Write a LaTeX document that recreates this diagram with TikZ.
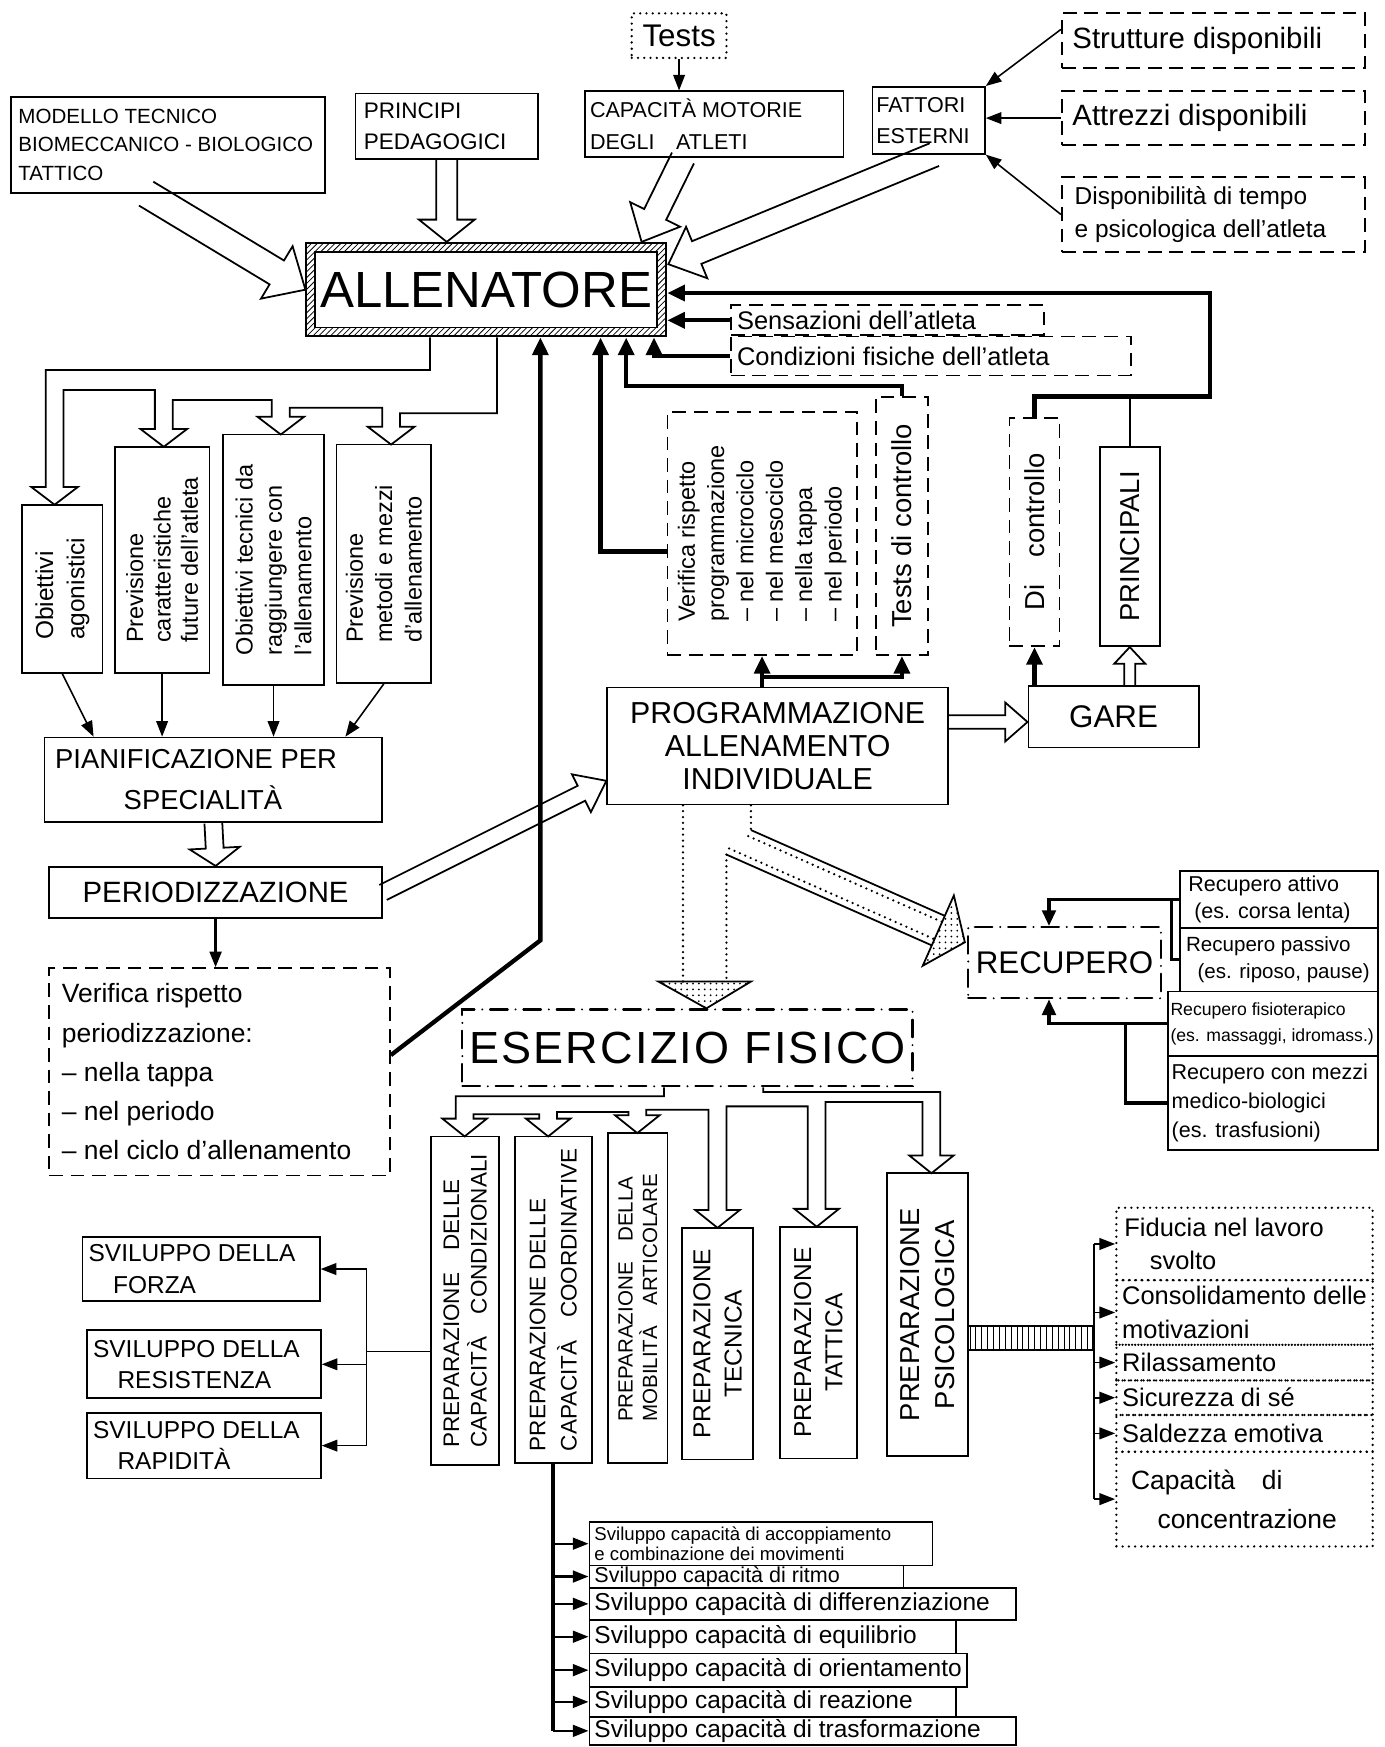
\documentclass[tikz,border=0pt]{standalone}
\usepackage{fontspec}
\setmainfont{Liberation Sans}
\usetikzlibrary{arrows.meta,patterns,calc,fit}

% hollow arrow: \harrow[style]{from}{to}{shaft}{head}{head length}
\newcommand{\harrow}[6][]{%
  \coordinate (hb) at ($(#3)!#6!(#2)$);
  \draw[hol,#1] ($(#2)!#4!90:(#3)$) -- ($(hb)!#4!90:(#3)$) -- ($(hb)!#5!90:(#3)$)
    -- (#3) -- ($(hb)!#5!-90:(#3)$) -- ($(hb)!#4!-90:(#3)$) -- ($(#2)!#4!-90:(#3)$);
}
% box and its text: \bx[box style]{name}{corners}{text style}{text position}{text}
\newcommand{\bx}[6][box]{%
  \node[#1, fit={#3}] (#2) {};
  \node[#4] (#2t) at (#5) {#6};
}
\newcommand{\fsz}[2]{\fontsize{#1}{#2}\selectfont}

\begin{document}
\begin{tikzpicture}[x=0.02cm, y=-0.02cm,
  box/.style={draw, line width=0.9pt, inner sep=0pt},
  dbox/.style={box, dash pattern=on 7pt off 4pt},
  dotbox/.style={box, line width=1.3pt, line cap=round, dash pattern=on 0pt off 3.2pt},
  ddbox/.style={box, line width=1.1pt, line cap=round, dash pattern=on 9pt off 4pt on 0pt off 4pt},
  lft/.style={anchor=west, align=left, inner sep=0pt},
  ctr/.style={align=center, inner sep=0pt},
  vt/.style={rotate=90, align=left, inner sep=0pt},
  hol/.style={line width=0.9pt},
  dotln/.style={line width=1.3pt, line cap=round, dash pattern=on 0pt off 3pt},
  ar/.style={line width=0.8pt, -{Triangle[length=8pt,width=6pt]}},
  fb/.style={line width=2.2pt, -{Triangle[length=9pt,width=8pt]}},
  md/.style={line width=1.6pt},
  mar/.style={md, -{Triangle[length=8pt,width=7pt]}},
]
\useasboundingbox (0,0) rectangle (1243,1568);

% --- top row
\bx[dotbox]{tests}{(567,12) (652,52)}{ctr, font=\fsz{16}{18}}{tests.center}{Tests}
\bx{modello}{(10,87) (292,173)}{lft, font=\fsz{10.5}{14.5}}{$(modello.west)+(7,0)$}{MODELLO TECNICO\\BIOMECCANICO - BIOLOGICO\\TATTICO}
\bx{princ}{(319,84) (483,143)}{lft, font=\fsz{11.5}{16}}{$(princ.west)+(8,0)$}{PRINCIPI\\PEDAGOGICI}
\bx{capac}{(525,82) (757,141)}{lft, font=\fsz{11}{16}}{$(capac.west)+(5,0)$}{CAPACITÀ MOTORIE\\DEGLI\quad ATLETI}
\bx{fattori}{(783,78) (884,138)}{lft, font=\fsz{11}{16}}{$(fattori.west)+(4,0)$}{FATTORI\\ESTERNI}
\bx[dbox]{strutt}{(953,12) (1225,61)}{lft, font=\fsz{15}{17}}{$(strutt.west)+(10,0)$}{Strutture disponibili}
\bx[dbox]{attr}{(953,82) (1225,130)}{lft, font=\fsz{15}{17}}{$(attr.west)+(10,0)$}{Attrezzi disponibili}
\bx[dbox]{disp}{(953,159) (1225,226)}{lft, font=\fsz{12.5}{17}}{$(disp.west)+(12,0)$}{Disponibilità di tempo\\e psicologica dell'atleta}

% --- allenatore
\node[box, line width=1pt, pattern=north east lines, fit={(275,218) (598,302)}] (allen) {};
\bx[box, fill=white]{allin}{(283,226) (590,294)}{ctr, font=\fsz{26}{28}}{allin.center}{ALLENATORE}
\bx[dbox]{sens}{(656,274) (937,301)}{lft, font=\fsz{13}{14}}{$(sens.west)+(6,0)$}{Sensazioni dell'atleta}
\bx[dbox]{cond}{(656,302) (1015,337)}{lft, font=\fsz{13}{14}}{$(cond.west)+(6,0)$}{Condizioni fisiche dell'atleta}

% --- controllo
\bx[dbox]{verprog}{(599,370) (769,588)}{vt, font=\fsz{12}{15}}{verprog.center}{Verifica rispetto\\programmazione\\– nel microciclo\\– nel mesociclo\\– nella tappa\\– nel periodo}
\bx[dbox]{tcon}{(786,356) (833,588)}{vt, font=\fsz{14}{16}}{tcon.center}{Tests di controllo}
\bx[dbox]{dicon}{(906,375) (951,580)}{vt, font=\fsz{14}{16}}{dicon.center}{Di\quad controllo}
\bx{gprinc}{(987,401) (1041,580)}{vt, font=\fsz{14}{16}}{gprinc.center}{PRINCIPALI}
\bx{prog}{(545,617) (851,722)}{ctr, font=\fsz{15.5}{17}}{prog.center}{PROGRAMMAZIONE\\ALLENAMENTO\\INDIVIDUALE}
\bx{gare}{(923,616) (1076,671)}{ctr, font=\fsz{16}{18}}{gare.center}{GARE}

% --- left column
\bx{ob1}{(20,453) (92,604)}{vt, font=\fsz{12.5}{16}}{ob1.center}{Obiettivi\\agonistici}
\bx{ob2}{(103,401) (188,604)}{vt, font=\fsz{12}{14}}{ob2.center}{Previsione\\caratteristiche\\future dell'atleta}
\bx{ob3}{(200,390) (291,615)}{vt, font=\fsz{12}{15}}{ob3.center}{Obiettivi tecnici da\\raggiungere con\\l'allenamento}
\bx{ob4}{(302,399) (387,613)}{vt, font=\fsz{12}{15}}{ob4.center}{Previsione\\metodi e mezzi\\d'allenamento}
\bx{pian}{(40,662) (343,738)}{lft, font=\fsz{14}{21}}{$(pian.west)+(10,0)$}{PIANIFICAZIONE PER\\\hspace{2.5em}SPECIALITÀ}
\bx{per}{(44,778) (343,824)}{ctr, font=\fsz{15}{17}}{per.center}{PERIODIZZAZIONE}
\bx[dbox]{verper}{(44,869) (350,1055)}{lft, font=\fsz{13.5}{20}}{$(verper.west)+(12,0)$}{Verifica rispetto\\periodizzazione:\\– nella tappa\\– nel periodo\\– nel ciclo d'allenamento}

% --- esercizio fisico
\bx[ddbox]{eser}{(415,906) (819,975)}{ctr, font={\fsz{23}{25}\addfontfeatures{LetterSpace=5}}}{eser.center}{ESERCIZIO FISICO}
\bx{b1}{(387,1020) (448,1315)}{vt, font=\fsz{11.5}{14}}{b1.center}{PREPARAZIONE\quad DELLE\\CAPACITÀ\quad CONDIZIONALI}
\bx{b2}{(462,1020) (531,1313)}{vt, font=\fsz{11.5}{16}}{b2.center}{PREPARAZIONE DELLE\\CAPACITÀ\quad COORDINATIVE}
\bx{b3}{(546,1017) (599,1313)}{vt, font=\fsz{10.5}{12.5}}{b3.center}{PREPARAZIONE\quad DELLA\\MOBILITÀ\quad ARTICOLARE}
\bx{b4}{(612,1102) (676,1310)}{vt, align=center, font=\fsz{12.5}{16}}{b4.center}{PREPARAZIONE\\TECNICA}
\bx{b5}{(700,1101) (769,1309)}{vt, align=center, font=\fsz{12.5}{16}}{b5.center}{PREPARAZIONE\\TATTICA}
\bx{b6}{(796,1053) (869,1307)}{vt, align=center, font=\fsz{14}{18}}{b6.center}{PREPARAZIONE\\PSICOLOGICA}

% --- sviluppo
\bx{forza}{(74,1110) (287,1168)}{lft, font=\fsz{12.5}{16}}{$(forza.west)+(6,0)$}{SVILUPPO DELLA\\\quad FORZA}
\bx{resist}{(78,1194) (288,1255)}{lft, font=\fsz{12.5}{16}}{$(resist.west)+(6,0)$}{SVILUPPO DELLA\\\quad RESISTENZA}
\bx{rapid}{(78,1268) (288,1327)}{lft, font=\fsz{12.5}{16}}{$(rapid.west)+(6,0)$}{SVILUPPO DELLA\\\quad RAPIDITÀ}
\bx{s1}{(529,1366) (837,1405)}{lft, font=\fsz{9.5}{10.5}}{$(s1.west)+(5,0)$}{Sviluppo capacità di accoppiamento\\e combinazione dei movimenti}
\bx{s2}{(529,1405) (811,1425)}{lft, font=\fsz{11}{12}}{$(s2.west)+(5,0)$}{Sviluppo capacità di ritmo}
\bx{s3}{(529,1425) (912,1454)}{lft, font=\fsz{12.5}{13}}{$(s3.west)+(5,0)$}{Sviluppo capacità di differenziazione}
\bx{s4}{(529,1454) (858,1484)}{lft, font=\fsz{12.5}{13}}{$(s4.west)+(5,0)$}{Sviluppo capacità di equilibrio}
\bx{s5}{(529,1484) (868,1514)}{lft, font=\fsz{12.5}{13}}{$(s5.west)+(5,0)$}{Sviluppo capacità di orientamento}
\bx{s6}{(529,1514) (858,1541)}{lft, font=\fsz{12.5}{13}}{$(s6.west)+(5,0)$}{Sviluppo capacità di reazione}
\bx{s7}{(529,1541) (912,1566)}{lft, font=\fsz{12.5}{13}}{$(s7.west)+(5,0)$}{Sviluppo capacità di trasformazione}

% --- recupero
\bx[ddbox]{recu}{(869,832) (1042,896)}{ctr, font=\fsz{16}{18}}{recu.center}{RECUPERO}
\bx{rec1}{(1059,782) (1237,833)}{lft, font=\fsz{11}{14}}{$(rec1.west)+(8,0)$}{Recupero attivo\\\ (es. corsa lenta)}
\bx{rec2}{(1059,833) (1237,890)}{lft, font=\fsz{10.5}{14}}{$(rec2.west)+(6,0)$}{Recupero passivo\\\ \ (es. riposo, pause)}
\bx{rec3}{(1048,890) (1237,948)}{lft, font=\fsz{9}{13}}{$(rec3.west)+(3,0)$}{Recupero fisioterapico\\(es. massaggi, idromass.)}
\bx{rec4}{(1048,948) (1237,1032)}{lft, font=\fsz{11}{15}}{$(rec4.west)+(4,0)$}{Recupero con mezzi\\medico-biologici\\(es. trasfusioni)}

% --- psicologica
\bx[dotbox]{fid}{(1002,1084) (1232,1149)}{lft, font=\fsz{13}{17}}{$(fid.west)+(8,0)$}{Fiducia nel lavoro\\\quad svolto}
\bx[dotbox]{cons}{(1002,1149) (1232,1207)}{lft, font=\fsz{13}{17}}{$(cons.west)+(6,0)$}{Consolidamento delle\\motivazioni}
\bx[dotbox]{rilas}{(1002,1207) (1232,1239)}{lft, font=\fsz{13}{15}}{$(rilas.west)+(6,0)$}{Rilassamento}
\bx[dotbox]{sicur}{(1002,1239) (1232,1270)}{lft, font=\fsz{13}{15}}{$(sicur.west)+(6,0)$}{Sicurezza di sé}
\bx[dotbox]{sald}{(1002,1270) (1232,1303)}{lft, font=\fsz{13}{15}}{$(sald.west)+(6,0)$}{Saldezza emotiva}
\bx[dotbox]{capc}{(1002,1303) (1232,1388)}{lft, font=\fsz{13.5}{20}}{$(capc.west)+(14,0)$}{Capacità\quad di\\\quad concentrazione}
\node[box, pattern=vertical lines, fit={(869,1190) (981,1212)}] (lad) {};

% --- connectors, top
\draw[ar] (tests.south) -- (tests.south |- capac.north);
\draw[ar] ($(strutt.north west)!0.3!(strutt.south west)$) -- (fattori.north east);
\draw[ar] (attr.west) -- (attr.west -| fattori.east);
\draw[ar] (disp.west) -- (fattori.south east);
\coordinate (mo1) at ($(modello.south west)!0.43!(modello.south east)$);
\harrow{mo1}{allen.west}{0.25cm}{0.55cm}{0.6cm}
\harrow{princ.south}{princ.south |- allen.north}{0.19cm}{0.5cm}{0.4cm}
\coordinate (ca1) at ($(capac.south west)!0.38!(capac.south east)$);
\coordinate (ca2) at ($(allen.north east)+(-23,0)$);
\harrow{ca1}{ca2}{0.22cm}{0.5cm}{0.55cm}
\coordinate (fa1) at ($(fattori.south west)!0.55!(fattori.south east)$);
\coordinate (fa2) at ($(allen.north east)+(1,20)$);
\harrow{fa1}{fa2}{0.22cm}{0.5cm}{0.55cm}

% --- feedback into allenatore
\coordinate (inA) at (allen.south -| 485,0);
\coordinate (inB) at (allen.south -| 539,0);
\coordinate (inC) at (allen.south -| 562,0);
\coordinate (inD) at (allen.south -| 587,0);
\coordinate (lpR) at (1086,356);
\coordinate (lpT) at (1086,263);
\coordinate (bend) at (485,844);
\draw[fb] (dicon.north) |- (lpR) -- (lpT) -- (allen.east |- lpT);
\draw[line width=1pt] (gprinc.north) -- (gprinc.north |- lpR);
\draw[fb] (sens.west) -- (sens.west -| allen.east);
\draw[fb] (cond.west) -| (inD);
\draw[fb] (tcon.north) -- ++(0,-9) -| (inC);
\draw[fb] ($(verprog.west)+(0,16)$) -| (inB);
\draw[fb] ($(verper.east)+(0,-15)$) -- (bend) -- (inA);

% --- programmazione, gare
\draw[fb] (verprog.south |- prog.north) -- (verprog.south);
\draw[fb] ($(verprog.south)+(0,19)$) -| (tcon.south);
\draw[fb] (dicon.south |- gare.north) -- (dicon.south);
\coordinate (gp) at (gprinc.south |- gare.north);
\harrow{gp}{gprinc.south}{0.1cm}{0.28cm}{0.3cm}
\coordinate (pg1) at (prog.east |- 0,648);
\coordinate (pg2) at (gare.west |- 0,648);
\harrow{pg1}{pg2}{0.12cm}{0.35cm}{0.4cm}

% --- left comb from allenatore
\draw[hol] (allen.south -| 386,0) -- (386,332) -- (41,332) -- (41,437) -- (28,437) -- (49,453) -- (70,437) -- (57,437)
  -- (57,350) -- (139,350) -- (139,385) -- (126,385) -- (147,401) -- (168,385) -- (155,385)
  -- (155,359) -- (244,359) -- (244,374) -- (231,374) -- (252,390) -- (273,374) -- (260,374)
  -- (260,366) -- (343,366) -- (343,383) -- (330,383) -- (351,399) -- (372,383) -- (359,383)
  -- (359,371) -- (446,371) -- (allen.south -| 446,0);
\coordinate (p1) at (pian.north -| 84,0);
\coordinate (p4) at (pian.north -| 310,0);
\draw[ar] (ob1.south) -- (p1);
\draw[ar] (ob2.south) -- (ob2.south |- pian.north);
\draw[ar] (ob3.south) -- (ob3.south |- pian.north);
\draw[ar] (ob4.south) -- (p4);
\harrow{pian.south}{per.north}{0.16cm}{0.45cm}{0.32cm}
\draw[ar, line width=1.4pt] (per.south) -- (per.south |- verper.north);
\coordinate (pp2) at ($(prog.south west)+(0,-22)$);
\harrow{per.east}{pp2}{0.15cm}{0.38cm}{0.5cm}

% --- dotted channel from programmazione
\draw[dotln] (prog.south -| 613,0) -- (613,881);
\draw[dotln] (652,767) -- (652,881);
\draw[dotln] (prog.south -| 674,0) -- (674,745);
\draw[hol] (674,745) -- (848,822);
\draw[hol] (652,767) -- (836.3,848.5);
\draw[dotln] (671.6,750.5) -- (845.6,827.5);
\draw[dotln] (654.4,761.5) -- (838.7,843);
\draw[hol, pattern=dots] (591,881) -- (eser.north -| 634,0) -- (674,881) -- cycle;
\draw[hol, pattern=dots] (856.1,803.7) -- (866,845.7) -- (828.2,866.8) -- cycle;

% --- comb from esercizio fisico
\draw[hol] (eser.south -| 596,0) -- (596,984) -- (409,984) -- (409,1004) -- (397,1004) -- (417,1020) -- (437,1004) -- (425,1004)
  -- (425,1000) -- (484,1000) -- (484,1004) -- (472,1004) -- (492,1020) -- (512,1004) -- (500,1004)
  -- (500,998) -- (564,998) -- (564,1001) -- (552,1001) -- (572,1017) -- (592,1001) -- (580,1001)
  -- (580,996) -- (636,996) -- (636,1086) -- (624,1086) -- (644,1102) -- (664,1086) -- (652,1086)
  -- (652,993) -- (725,993) -- (725,1085) -- (713,1085) -- (733,1101) -- (753,1085) -- (741,1085)
  -- (741,989) -- (828,989) -- (828,1037) -- (816,1037) -- (836,1053) -- (856,1037) -- (844,1037)
  -- (844,980) -- (685,980) -- (eser.south -| 685,0);

% --- sviluppo links
\coordinate (sv) at (329,1213);
\draw[hol] (sv) -- (sv -| b1.west);
\draw[hol] (sv |- forza.east) -- (sv |- rapid.east);
\foreach \s in {forza,resist,rapid} \draw[ar] (sv |- \s.east) -- (\s.east);
\draw[line width=2.2pt] (b2.south) -- (b2.south |- s7.west);
\foreach \s in {s1,s2,s3,s4,s5,s6,s7} \draw[ar, line width=1.2pt] (b2.south |- \s.west) -- (\s.west);

% --- recupero links
\coordinate (rin) at ($(recu.north)+(-14,0)$);
\coordinate (rout) at ($(recu.south)+(-14,0)$);
\draw[mar] (rec1.west) -| (rin);
\draw[md] (rec2.west) -- ++(-7,0) |- (rec1.west);
\draw[mar] (rec3.west) -| (rout);
\draw[md] (rec4.west) -- ++(-37,0) |- (rec3.west);

% --- psicologica links
\draw[hol] (lad.east |- fid.west) -- (lad.east |- capc.west);
\foreach \r in {fid,cons,rilas,sicur,sald,capc} \draw[ar] (lad.east |- \r.west) -- (\r.west);
\end{tikzpicture}
\end{document}
